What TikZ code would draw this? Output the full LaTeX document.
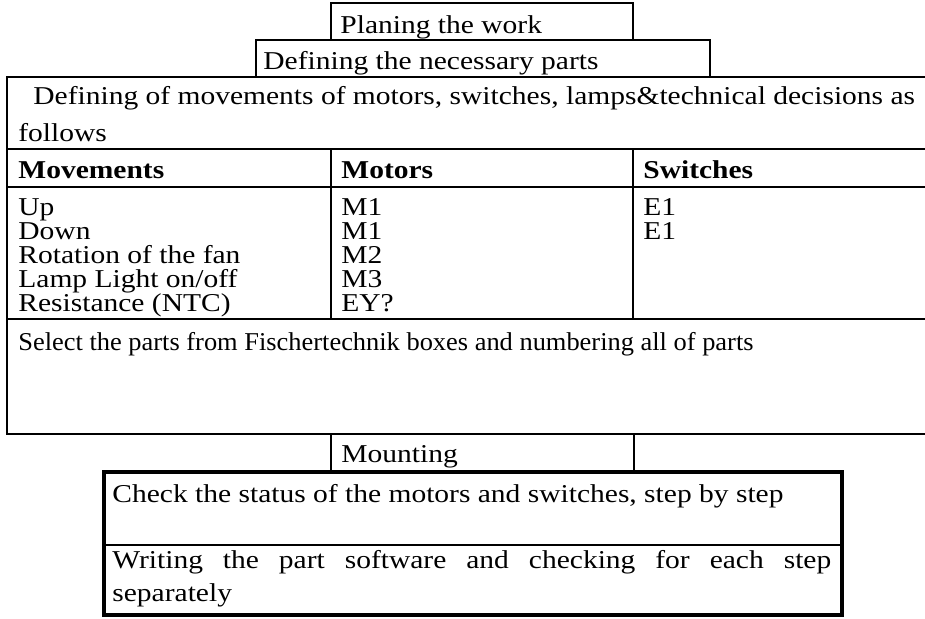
\documentclass[tikz,border=0pt]{standalone}
\usepackage{graphicx}
\usepackage{fontspec}
\setmainfont{Liberation Serif}
\newcommand{\hs}[1]{\scalebox{1.148}[1]{#1}}
\newcommand{\hsc}[1]{\scalebox{1.028}[1]{#1}}
\begin{document}
\begin{tikzpicture}[x=0.5pt,y=-0.5pt,
  txt/.style={anchor=base west,inner sep=0pt,font=\fontsize{12.85pt}{15pt}\selectfont},
  ln/.style={line width=1pt},
  thk/.style={line width=2.2pt}]
\useasboundingbox (0,0) rectangle (925,618);
% boxes and table rules
\draw[ln] (331,3) rectangle (633,40);
\draw[ln] (256,40) rectangle (710,77);
\draw[ln] (925,77) -- (7,77) -- (7,434) -- (925,434);
\draw[ln] (7,149) -- (925,149);
\draw[ln] (7,187) -- (925,187);
\draw[ln] (7,319) -- (925,319);
\draw[ln] (331,149) -- (331,319);
\draw[ln] (633,149) -- (633,319);
\draw[ln] (331,434) -- (331,472);
\draw[ln] (634,434) -- (634,472);
\draw[thk] (104,472) rectangle (842,615);
\draw[ln] (104,545) -- (842,545);
% texts
\node[txt] (plan) at (340,33) {\hs{Planing the work}};
\node[txt] (def) at (263,69) {\hs{Defining the necessary parts}};
\node[txt] (mov1) at (33,104) {\hs{Defining of movements of motors, switches, lamps\&technical decisions as}};
\node[txt] (mov2) at (18,141) {\hs{follows}};
\node[txt] (h1) at (18,178) {\hs{\textbf{Movements}}};
\node[txt] (h2) at (341,178) {\hs{\textbf{Motors}}};
\node[txt] (h3) at (643,178) {\hs{\textbf{Switches}}};
\node[txt] (r1a) at (18,215) {\hs{Up}};
\node[txt] (r1b) at (341,215) {\hs{M1}};
\node[txt] (r1c) at (643,215) {\hs{E1}};
\node[txt] (r2a) at (18,239) {\hs{Down}};
\node[txt] (r2b) at (341,239) {\hs{M1}};
\node[txt] (r2c) at (643,239) {\hs{E1}};
\node[txt] (r3a) at (18,263) {\hs{Rotation of the fan}};
\node[txt] (r3b) at (341,263) {\hs{M2}};
\node[txt] (r4a) at (18,287) {\hs{Lamp Light on/off}};
\node[txt] (r4b) at (341,287) {\hs{M3}};
\node[txt] (r5a) at (18,311) {\hs{Resistance (NTC)}};
\node[txt] (r5b) at (341,311) {\hs{EY?}};
\node[txt] (sel) at (18,350) {\hsc{Select the parts from Fischertechnik boxes and numbering all of parts}};
\node[txt] (mount) at (341,462) {\hs{Mounting}};
\node[txt] (chk) at (112,502) {\hs{Check the status of the motors and switches, step by step}};
\node[txt] (wr1) at (112,568) {\hs{\makebox[313.1pt][s]{Writing the part software and checking for each step}}};
\node[txt] (wr2) at (112,601) {\hs{separately}};
\end{tikzpicture}
\end{document}
